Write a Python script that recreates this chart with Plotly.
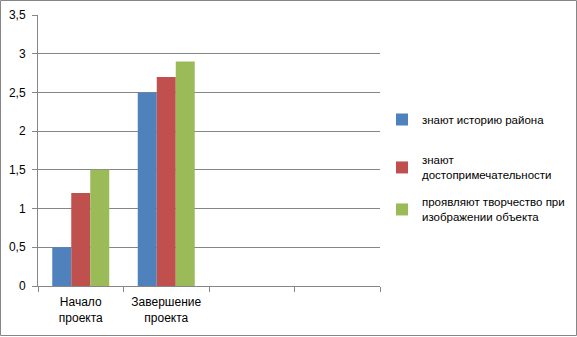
import plotly.graph_objects as go

categories = ["Начало<br>проекта", "Завершение<br>проекта", " ", "  "]
series_names = [
    "знают историю района",
    "знают<br>достопримечательности",
    "проявляют творчество при<br>изображении объекта",
]
s1 = [0.5, 2.5, None, None]
s2 = [1.2, 2.7, None, None]
s3 = [1.5, 2.9, None, None]
colors = ["#4F81BD", "#C0504D", "#9BBB59"]
ytickvals = [0, 0.5, 1, 1.5, 2, 2.5, 3, 3.5]
yticktext = ["0", "0,5", "1", "1,5", "2", "2,5", "3", "3,5"]

FONT = "Liberation Sans"
W, H = 577, 337
L, R, T, B = 38, 380, 15, 286
pw, ph = R - L, B - T

def px_x(x):
    return (x - L) / pw

def px_y(y):
    return (B - y) / ph

fig = go.Figure()
legends = ["legend", "legend2", "legend3"]
for name, vals, col, lg in zip(series_names, [s1, s2, s3], colors, legends):
    fig.add_trace(go.Bar(x=categories, y=vals, name=name, marker_color=col,
                         marker_line_width=0, legend=lg, showlegend=True))

leg_top = [105, 146, 188]
layout_leg = {}
for lg, yy in zip(legends, leg_top):
    layout_leg[lg] = dict(x=px_x(382), y=px_y(yy), xanchor="left", yanchor="top",
                          font=dict(family=FONT, size=11.5, color="#000000"),
                          bgcolor="rgba(0,0,0,0)", itemwidth=30, visible=True)

fig.update_layout(
    width=W, height=H,
    margin=dict(l=L, r=W - R, t=T, b=H - B, pad=0, autoexpand=False),
    paper_bgcolor="white", plot_bgcolor="white",
    bargap=1.5 / 4.5, bargroupgap=0, barmode="group",
    font=dict(family=FONT, size=12, color="#000000"),
    xaxis=dict(type="category", tickson="boundaries", ticks="outside", ticklen=5,
               tickcolor="#868686", showline=True, linecolor="#868686", linewidth=1,
               showgrid=False, range=[-0.5, 3.5], fixedrange=True,
               ticklabelstandoff=5,
               tickfont=dict(family=FONT, size=12, color="#000000")),
    yaxis=dict(range=[0, 3.5], tickvals=ytickvals, ticktext=yticktext,
               showgrid=True, gridcolor="#868686", gridwidth=1,
               showline=True, linecolor="#868686", linewidth=1,
               ticks="outside", ticklen=5, tickcolor="#868686",
               ticklabelstandoff=4, zeroline=False, fixedrange=True,
               tickfont=dict(family=FONT, size=12, color="#000000")),
    **layout_leg,
)

fig.add_shape(type="rect", xref="paper", yref="paper",
              x0=px_x(0.5), x1=px_x(576.5), y0=px_y(335.5), y1=px_y(0.5),
              line=dict(color="#868686", width=1), layer="below")

fig.write_html("out.html", config={"displayModeBar": False},
               post_script="document.body.style.margin='0';document.body.style.overflow='hidden';")
